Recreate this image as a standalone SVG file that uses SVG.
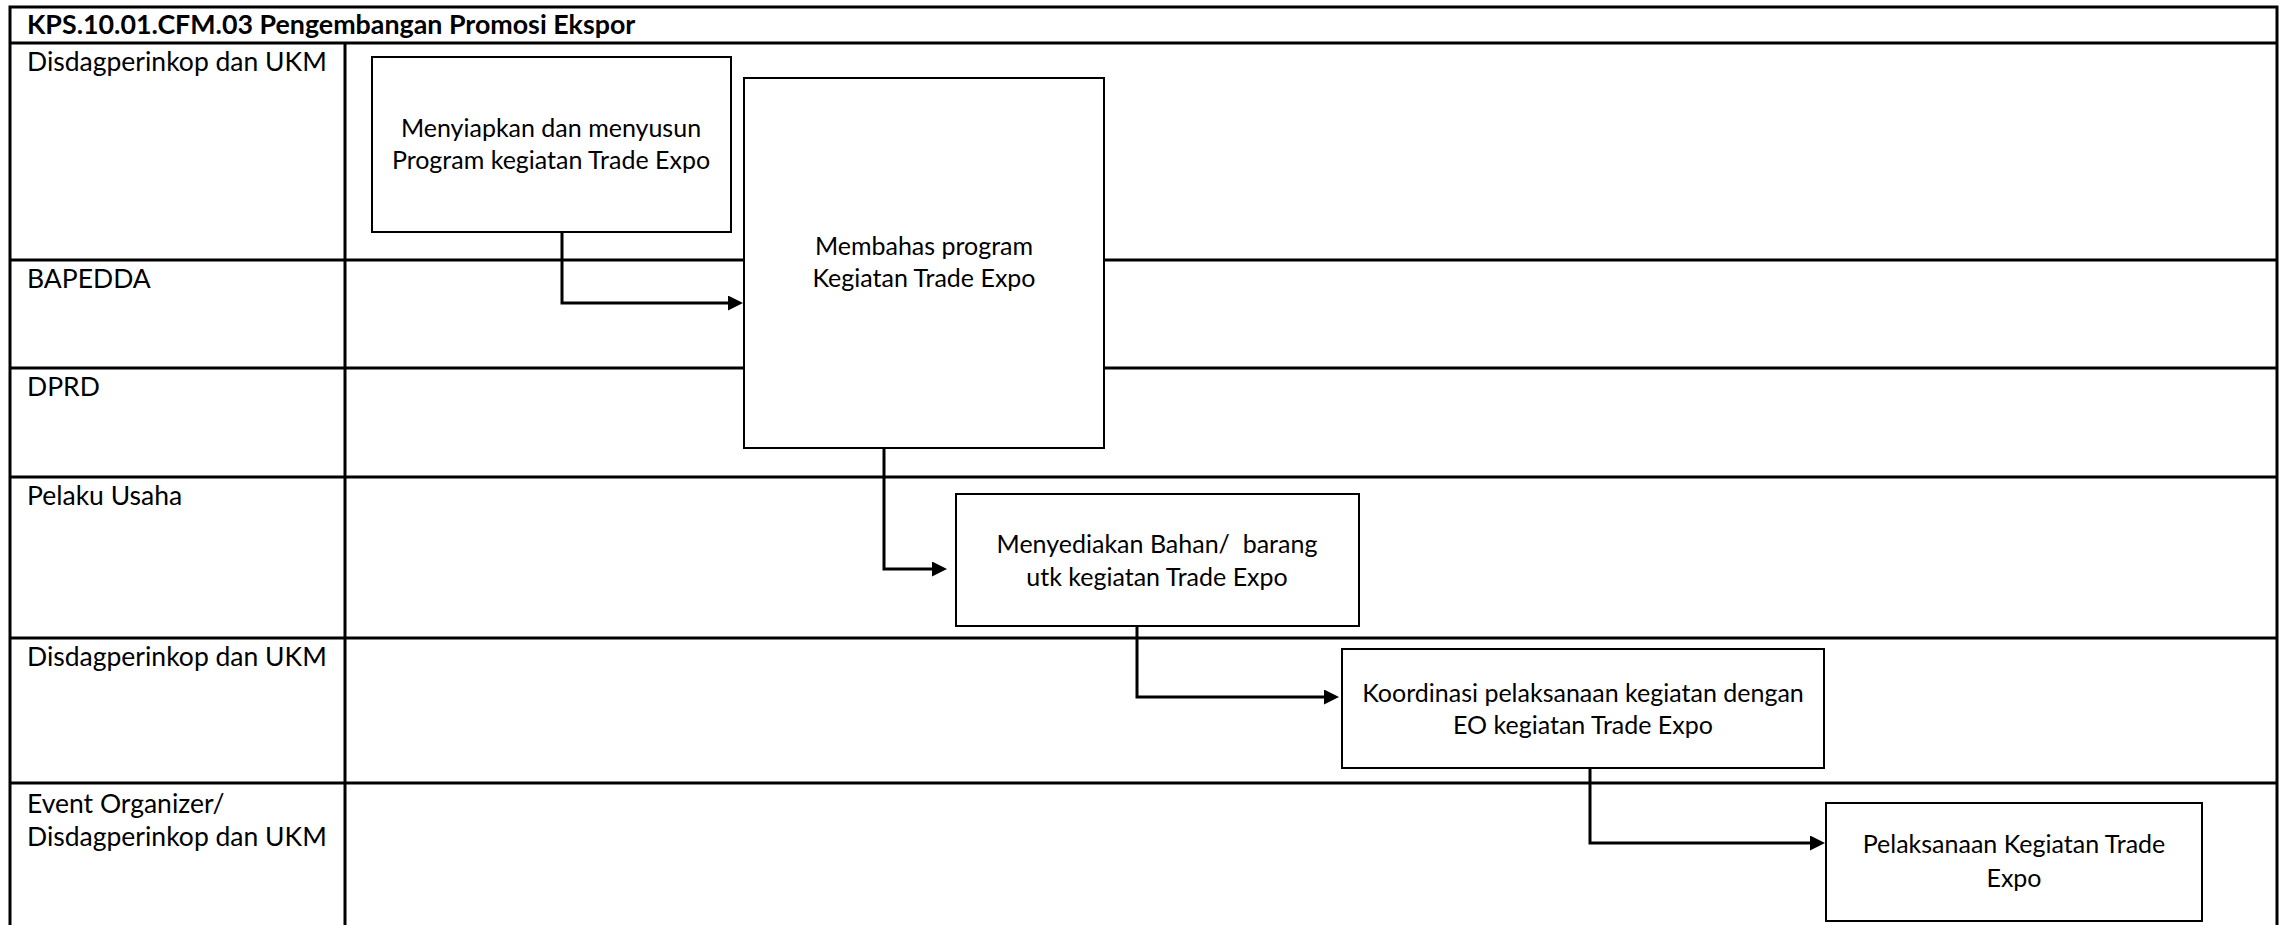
<svg xmlns="http://www.w3.org/2000/svg" width="2289" height="925" viewBox="0 0 2289 925">
<style>
.frame{fill:none;stroke:#000;stroke-width:3}
.lane{stroke:#000;stroke-width:3}
.box{fill:#fff;stroke:#000;stroke-width:2}
.title{font-family:Lato,"Liberation Sans",sans-serif;font-weight:bold;font-size:26.8px;fill:#000}
.lbl{font-family:Lato,"Liberation Sans",sans-serif;font-size:26.5px;fill:#000}
.txt{font-family:Lato,"Liberation Sans",sans-serif;font-size:25px;fill:#000;text-anchor:middle}
.conn{fill:none;stroke:#000;stroke-width:3}
</style>
<defs>
<marker id="arr" markerUnits="userSpaceOnUse" markerWidth="16" markerHeight="16" refX="3" refY="7.5" orient="auto">
<path d="M0,0 L15,7.5 L0,15 z" fill="#000"/>
</marker>
</defs>
<rect width="2289" height="925" fill="#fff"/>
<g id="pool">
<rect class="frame" x="10" y="7" width="2267" height="930"/>
<line class="lane" x1="10" y1="43" x2="2277" y2="43"/>
<line class="lane" x1="345" y1="43" x2="345" y2="925"/>
<line class="lane" x1="10" y1="260" x2="2277" y2="260"/>
<line class="lane" x1="10" y1="368" x2="2277" y2="368"/>
<line class="lane" x1="10" y1="477" x2="2277" y2="477"/>
<line class="lane" x1="10" y1="638" x2="2277" y2="638"/>
<line class="lane" x1="10" y1="783" x2="2277" y2="783"/>
<text class="title" x="27" y="34">KPS.10.01.CFM.03 Pengembangan Promosi Ekspor</text>
<text class="lbl" x="27" y="71">Disdagperinkop dan UKM</text>
<text class="lbl" x="27" y="288">BAPEDDA</text>
<text class="lbl" x="27" y="396">DPRD</text>
<text class="lbl" x="27" y="505">Pelaku Usaha</text>
<text class="lbl" x="27" y="666">Disdagperinkop dan UKM</text>
<text class="lbl" x="27" y="813">Event Organizer/</text>
<text class="lbl" x="27" y="846">Disdagperinkop dan UKM</text>
</g>
<g id="connectors">
<path class="conn" d="M562,232 V303 H731" marker-end="url(#arr)"/>
<path class="conn" d="M884,448 V569 H935" marker-end="url(#arr)"/>
<path class="conn" d="M1137,626 V697 H1327" marker-end="url(#arr)"/>
<path class="conn" d="M1590,768 V843 H1813" marker-end="url(#arr)"/>
</g>
<g id="n1">
<rect class="box" x="372" y="57" width="359" height="175"/>
<text class="txt" x="551" y="137">Menyiapkan dan menyusun</text>
<text class="txt" x="551" y="169">Program kegiatan Trade Expo</text>
</g>
<g id="n2">
<rect class="box" x="744" y="78" width="360" height="370"/>
<text class="txt" x="924" y="255">Membahas program</text>
<text class="txt" x="924" y="287">Kegiatan Trade Expo</text>
</g>
<g id="n3">
<rect class="box" x="956" y="494" width="403" height="132"/>
<text class="txt" x="1157" y="553" xml:space="preserve">Menyediakan Bahan/  barang</text>
<text class="txt" x="1157" y="586">utk kegiatan Trade Expo</text>
</g>
<g id="n4">
<rect class="box" x="1342" y="649" width="482" height="119"/>
<text class="txt" x="1583" y="702">Koordinasi pelaksanaan kegiatan dengan</text>
<text class="txt" x="1583" y="734">EO kegiatan Trade Expo</text>
</g>
<g id="n5">
<rect class="box" x="1826" y="803" width="376" height="118"/>
<text class="txt" x="2014" y="853">Pelaksanaan Kegiatan Trade</text>
<text class="txt" x="2014" y="887">Expo</text>
</g>
</svg>
